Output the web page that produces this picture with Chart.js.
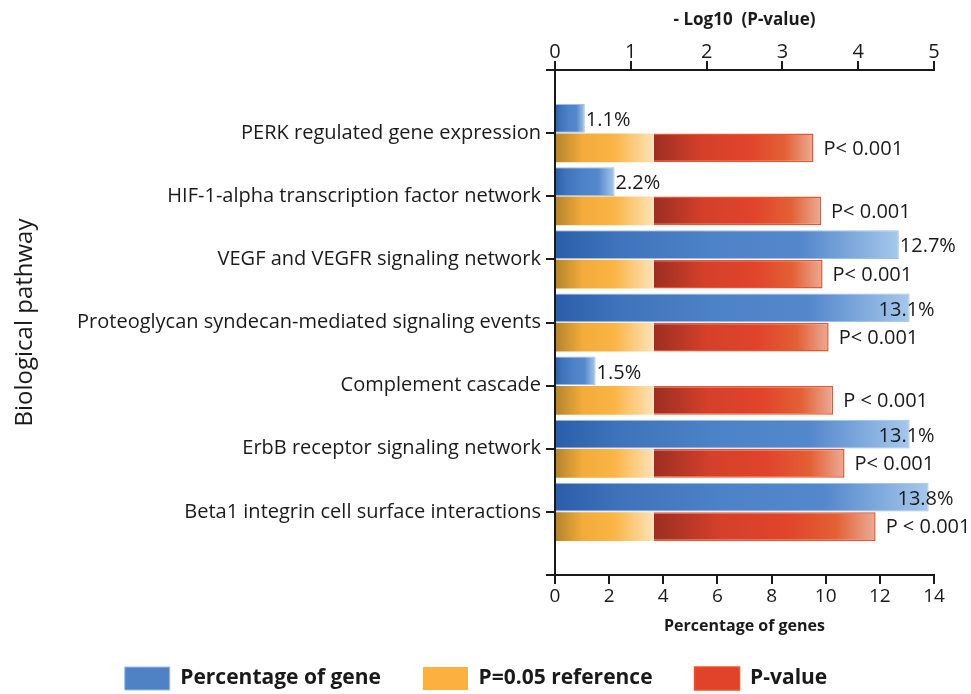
<!DOCTYPE html>
<html><head><meta charset="utf-8">
<script src="https://cdn.jsdelivr.net/npm/chart.js@4.4.1/dist/chart.umd.min.js"></script>
<style>html,body{margin:0;padding:0;background:#fff;}#wrap{width:971px;height:694px;}</style>
</head><body><div id="wrap"><canvas id="c" width="971" height="694"></canvas></div>
<script>
// ---- data ----
const categories = [
  'PERK regulated gene expression',
  'HIF-1-alpha transcription factor network',
  'VEGF and VEGFR signaling network',
  'Proteoglycan syndecan-mediated signaling events',
  'Complement cascade',
  'ErbB receptor signaling network',
  'Beta1 integrin cell surface interactions'
];
const percentGenes = [1.1, 2.2, 12.7, 13.1, 1.5, 13.1, 13.8];
const negLogP = [3.41, 3.51, 3.53, 3.61, 3.67, 3.82, 4.23];
const refNegLogP = 1.301; // -log10(0.05)
const pLabels = ['P< 0.001', 'P< 0.001', 'P< 0.001', 'P< 0.001', 'P < 0.001', 'P< 0.001', 'P < 0.001'];
const percentLabels = ['1.1%', '2.2%', '12.7%', '13.1%', '1.5%', '13.1%', '13.8%'];
const legendNames = ['Percentage of gene', 'P=0.05 reference', 'P-value'];
const topAxisTitle = '- Log10  (P-value)';
const bottomAxisTitle = 'Percentage of genes';
const yAxisTitle = 'Biological pathway';

// padded category axis (empty slots at both ends)
const labels = [''].concat(categories, ['']);
const pad = (arr) => [null].concat(arr, [null]);

const FONT = "'Open Sans', 'DejaVu Sans', sans-serif";
const INK = '#1a1a1a';

function barGradient(stops, flat, scaleId) {
  return (ctx) => {
    if (ctx.type !== 'data') return flat;
    const chart = ctx.chart;
    const sc = chart.scales[scaleId];
    const raw = ctx.raw;
    if (!sc || raw == null) return flat;
    let a = 0, b = raw;
    if (Array.isArray(raw)) { a = raw[0]; b = raw[1]; }
    const x0 = sc.getPixelForValue(a), x1 = sc.getPixelForValue(b);
    if (!isFinite(x0) || !isFinite(x1) || x0 === x1) return flat;
    const g = chart.ctx.createLinearGradient(x0, 0, x1, 0);
    stops.forEach(([o, c]) => g.addColorStop(o, c));
    return g;
  };
}

const blueStops = [[0, '#2a5ea8'], [0.18, '#3f73bb'], [0.45, '#4c82c7'], [0.72, '#5488cc'], [1, '#a6c8ec']];
const orangeStops = [[0, '#b3832c'], [0.28, '#f3ac3b'], [0.6, '#fbb545'], [1, '#fde2b6']];
const redStops = [[0, '#9c2e22'], [0.3, '#d4402a'], [0.6, '#e1442b'], [0.82, '#e36034'], [1, '#ecab95']];

const valueLabels = {
  id: 'valueLabels',
  afterDatasetsDraw(chart) {
    const ctx = chart.ctx;
    ctx.save();
    ctx.fillStyle = INK;
    ctx.font = "20px " + FONT;
    ctx.textBaseline = 'middle';
    const blue = chart.getDatasetMeta(0).data;
    const red = chart.getDatasetMeta(2).data;
    for (let i = 0; i < categories.length; i++) {
      const b = blue[i + 1];
      if (b) {
        if (percentGenes[i] >= 13) { ctx.textAlign = 'right'; ctx.fillText(percentLabels[i], b.x + 25, b.y + 2); }
        else { ctx.textAlign = 'left'; ctx.fillText(percentLabels[i], b.x + 1, b.y + 2); }
      }
      const r = red[i + 1];
      if (r) { ctx.textAlign = 'left'; ctx.fillText(pLabels[i], r.x + 10, r.y + 1); }
    }
    ctx.restore();
  }
};

const axisGrid = { display: true, drawOnChartArea: false, drawTicks: true, tickLength: 9, color: INK, lineWidth: 2 };
const axisBorder = { display: true, color: INK, width: 2 };

new Chart(document.getElementById('c'), {
  type: 'bar',
  data: {
    labels: labels,
    datasets: [
      {
        label: legendNames[0], data: pad(percentGenes), xAxisID: 'xB', stack: 'genes',
        backgroundColor: barGradient(blueStops, '#4f81c5', 'xB'),
        borderColor: '#9cbfe8', borderWidth: 1, borderSkipped: 'start'
      },
      {
        label: legendNames[1], data: pad(categories.map(() => refNegLogP)), xAxisID: 'xT', stack: 'p',
        backgroundColor: barGradient(orangeStops, '#fbb040', 'xT'),
        borderColor: '#fbb040', borderWidth: 0
      },
      {
        label: legendNames[2], data: pad(negLogP.map(v => [refNegLogP, v])), xAxisID: 'xT', stack: 'p',
        backgroundColor: barGradient(redStops, '#e0432a', 'xT'),
        borderColor: '#e9552f', borderWidth: 1.5, borderSkipped: 'start'
      }
    ]
  },
  options: {
    indexAxis: 'y',
    responsive: false,
    devicePixelRatio: 1,
    animation: false,
    categoryPercentage: 0.93,
    barPercentage: 0.98,
    layout: { padding: { left: 18, right: 37, top: 0, bottom: 0 } },
    scales: {
      y: {
        type: 'category', offset: false, z: 1,
        grid: Object.assign({}, axisGrid, { offset: false }),
        border: axisBorder,
        ticks: { color: INK, font: { family: FONT, size: 20 }, padding: 5, autoSkip: false },
        title: { display: true, text: yAxisTitle, color: INK, font: { family: FONT, size: 24 }, padding: { top: -7, bottom: 0 } },
        afterFit(s) { s.width = 537; }
      },
      xT: {
        type: 'linear', position: 'top', min: 0, max: 5, stacked: false,
        grid: axisGrid, border: axisBorder,
        ticks: { stepSize: 1, color: INK, font: { family: FONT, size: 20 }, padding: -3 },
        title: { display: true, text: topAxisTitle, color: INK, font: { family: FONT, size: 17, weight: 'bold' }, padding: { top: 10, bottom: 0 } },
        afterFit(s) { s.height = 70; }
      },
      xB: {
        type: 'linear', position: 'bottom', min: 0, max: 14, stacked: false,
        grid: axisGrid, border: axisBorder,
        ticks: { stepSize: 2, color: INK, font: { family: FONT, size: 19 }, padding: 1 },
        title: { display: true, text: bottomAxisTitle, color: INK, font: { family: FONT, size: 16, weight: 'bold' }, padding: { top: 0, bottom: -11 } },
        afterFit(s) { s.height = 50; }
      }
    },
    plugins: {
      legend: {
        position: 'bottom', maxHeight: 69,
        labels: { boxWidth: 45, boxHeight: 23, padding: 42, color: INK, font: { family: FONT, size: 21, weight: 'bold' } }
      },
      tooltip: { enabled: false }
    }
  },
  plugins: [valueLabels]
});
</script>
</body></html>
